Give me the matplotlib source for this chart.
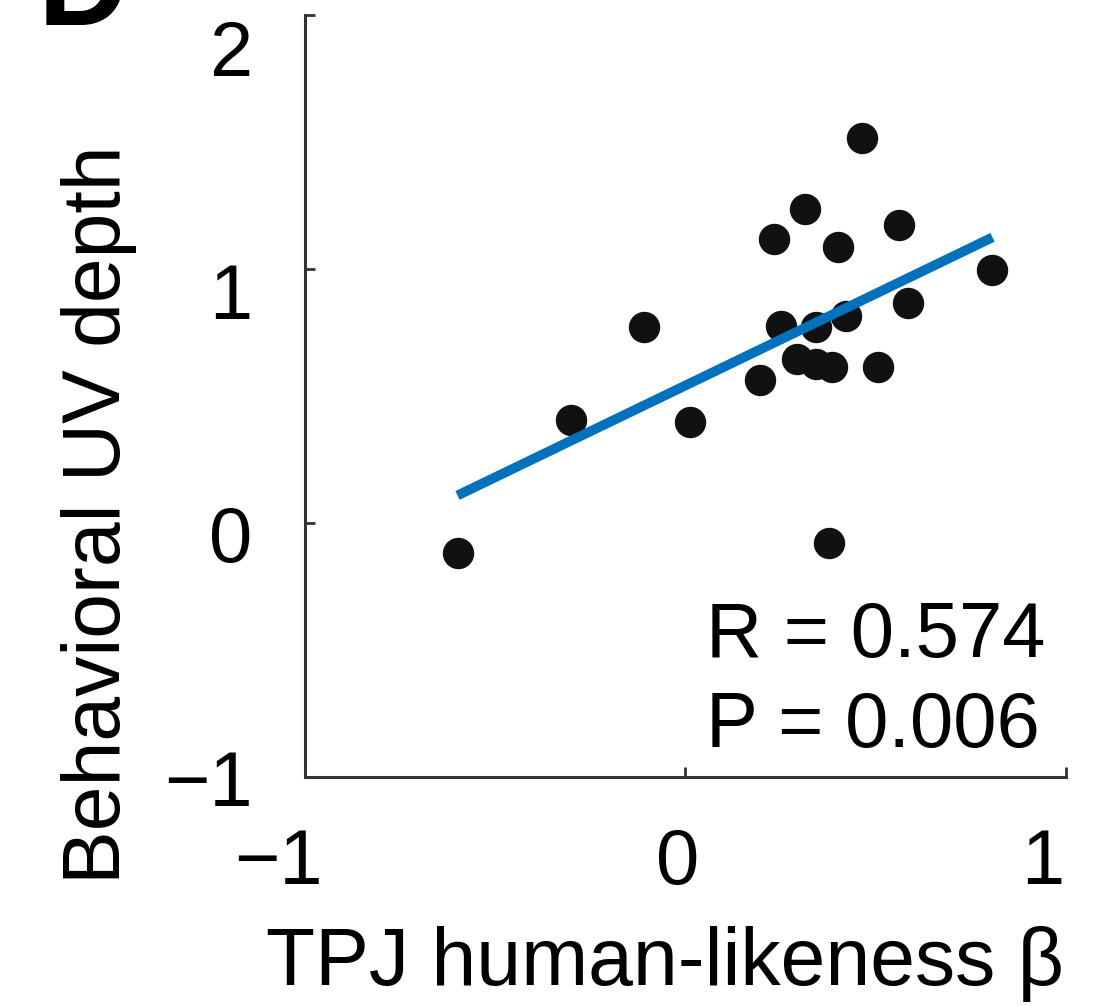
# Scatter of TPJ human-likeness beta vs behavioral UV depth, with fitted line

import numpy as np
import matplotlib
matplotlib.use("Agg")
import matplotlib.pyplot as plt
from matplotlib.transforms import ScaledTranslation

plt.rcParams["font.family"] = ["Liberation Sans", "DejaVu Sans"]

# ----------------------------
# Data
# ----------------------------

tpj_beta = [-0.599, -0.302, -0.110, 0.011, 0.197, 0.234, 0.252, 0.315, 0.294, 0.342,
            0.342, 0.386, 0.376, 0.402, 0.421, 0.463, 0.505, 0.562, 0.586, 0.807]
uv_depth = [-0.119, 0.407, 0.771, 0.399, 0.565, 1.119, 0.775, 1.237, 0.644, 0.771,
            0.625, 0.613, -0.079, 1.087, 0.814, 1.514, 0.613, 1.174, 0.866, 0.996]

x_ticks = [-1, 0, 1]
y_ticks = [-1, 0, 1, 2]
stats_lines = ["R = 0.574", "P = 0.006"]

x = np.array(tpj_beta)
y = np.array(uv_depth)

# least squares fit over the range of the data
slope, intercept = np.polyfit(x, y, 1)
fit_x = np.array([x.min(), x.max()])
fit_y = slope * fit_x + intercept

# ----------------------------
# Plot
# ----------------------------

fig = plt.figure(figsize=(11.07, 10.06), dpi=100)
ax = fig.add_axes([0.2755, 0.2276, 0.6874, 0.7575])

ax.plot(x, y, "o", color="#111111", markersize=21.6, zorder=2)
ax.plot(fit_x, fit_y, color="#0072BD", linewidth=7, solid_capstyle="butt", zorder=3)

ax.set_xlim(-1, 1)
ax.set_ylim(-1, 2)
ax.set_xticks(x_ticks)
ax.set_yticks(y_ticks)

for side in ["top", "right"]:
    ax.spines[side].set_visible(False)
for side in ["left", "bottom"]:
    ax.spines[side].set_linewidth(2.2)
    ax.spines[side].set_color("#333333")

ax.tick_params(direction="in", length=7, width=2, color="#333333",
               labelsize=56, pad=38)
ax.tick_params(axis="x", pad=36)

ax.set_xlabel("TPJ human-likeness β", fontsize=58)
ax.set_ylabel("Behavioral UV depth", fontsize=58)
ax.xaxis.set_label_coords(0.473, -0.196)
ax.yaxis.set_label_coords(-0.221, 0.344)

ax.text(0.527, 0.158, stats_lines[0], transform=ax.transAxes,
        fontsize=56, ha="left", va="baseline")
ax.text(0.527, 0.039, stats_lines[1], transform=ax.transAxes,
        fontsize=56, ha="left", va="baseline")

# panel letter, cut off at the top edge
fig.text(0.034, 1 - 25 / 1006, "D", fontsize=90, fontweight="bold",
         ha="left", va="baseline")

# the original tick labels sit a little off their ticks; nudge them the same way
fig.canvas.draw()
x_label_shift = {-1: -27, 0: -8, 1: -23}  # pixels
for tick, val in zip(ax.xaxis.get_major_ticks(), x_ticks):
    lab = tick.label1
    lab.set_transform(lab.get_transform()
                      + ScaledTranslation(x_label_shift[val] / 100, 0, fig.dpi_scale_trans))
for tick, val in zip(ax.yaxis.get_major_ticks(), y_ticks):
    lab = tick.label1
    down = 10.7 * (val + 1) / 100
    lab.set_transform(lab.get_transform()
                      + ScaledTranslation(0, -down, fig.dpi_scale_trans))

fig.savefig("out.png", dpi=100)
